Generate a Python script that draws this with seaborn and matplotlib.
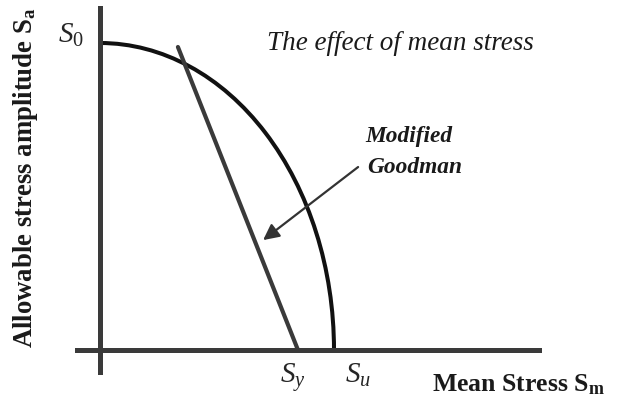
import numpy as np
import pandas as pd
import matplotlib.pyplot as plt
from matplotlib.patches import Arc
import seaborn as sns

# values (Sa normalised by S0, Sm by Su)
S0 = 1.0
Su = 1.0
Sy = 0.846
goodman_sm = [0.846, 0.333]
goodman_sa = [0.0, 0.987]
point_labels = ["$S_0$", "$S_y$", "$S_u$"]

sns.set_style("white")
plt.rcParams['font.family'] = ['Liberation Serif', 'DejaVu Serif']
plt.rcParams['mathtext.fontset'] = 'custom'
plt.rcParams['mathtext.rm'] = 'Liberation Serif'
plt.rcParams['mathtext.it'] = 'Liberation Serif:italic'
plt.rcParams['mathtext.bf'] = 'Liberation Serif:bold'

fig = plt.figure(figsize=(6.2, 4.03), dpi=100)
ax = fig.add_axes([0, 0, 1, 1])

# pixel scale of the original drawing
px_x = 234.0
px_y = 307.0
ax.set_xlim(-100 / px_x, 520 / px_x)
ax.set_ylim(-53 / px_y, 350 / px_y)

# axes drawn as spines through the origin
for side in ['top', 'right']:
    ax.spines[side].set_visible(False)
ax.spines['left'].set_position(('data', 0))
ax.spines['bottom'].set_position(('data', 0))
ax.spines['left'].set_bounds(-22 / px_y, 342 / px_y)
ax.spines['bottom'].set_bounds(-23 / px_x, 439 / px_x)
for side in ['left', 'bottom']:
    ax.spines[side].set_linewidth(3.6)
    ax.spines[side].set_color('#3a3a3a')
    ax.spines[side].set_zorder(3)
ax.set_xticks([])
ax.set_yticks([])

# failure envelope (quarter ellipse through S0 and Su)
ax.add_patch(Arc((0, 0), 2 * Su, 2 * S0, theta1=0, theta2=90,
                 color='#111111', lw=2.9, zorder=2))

# modified Goodman line
df = pd.DataFrame({'Sm': goodman_sm, 'Sa': goodman_sa})
sns.lineplot(data=df, x='Sm', y='Sa', sort=False, color='#3a3a3a',
             lw=3.0, ax=ax, zorder=2)

# labels
ax.text(-0.125, 1.026 * S0, point_labels[0], fontsize=21, ha='center', va='center')
ax.text(Sy - 0.02, -0.09, point_labels[1], fontsize=21, ha='center', va='center')
ax.text(Su + 0.103, -0.083, point_labels[2], fontsize=21, ha='center', va='center')

ax.text(0.714, 1.0, "The effect of mean stress", fontsize=19.5, style='italic',
        ha='left', va='center', color='#1a1a1a')
ax.text(1.132, 0.694, "Modified", fontsize=16.8, style='italic', weight='bold',
        ha='left', va='center', color='#1a1a1a')
ax.text(1.14, 0.596, "Goodman", fontsize=16.8, style='italic', weight='bold',
        ha='left', va='center', color='#1a1a1a')
ax.annotate("", xy=(0.697, 0.358), xytext=(1.103, 0.596),
            arrowprops=dict(arrowstyle='-|>', mutation_scale=24, lw=1.6,
                            color='#333333', shrinkA=0, shrinkB=0))

ax.text(1.419, -0.134, r"Mean Stress S$_\mathbf{m}$", fontsize=18.5, weight='bold',
        ha='left', va='baseline', color='#1a1a1a')
fig.text(26 / 620, 1 - 178 / 403, r"Allowable stress amplitude S$_\mathbf{a}$",
         fontsize=19.3, weight='bold', rotation=90, ha='center', va='center',
         color='#1a1a1a')

fig.savefig("out.png", dpi=100)
